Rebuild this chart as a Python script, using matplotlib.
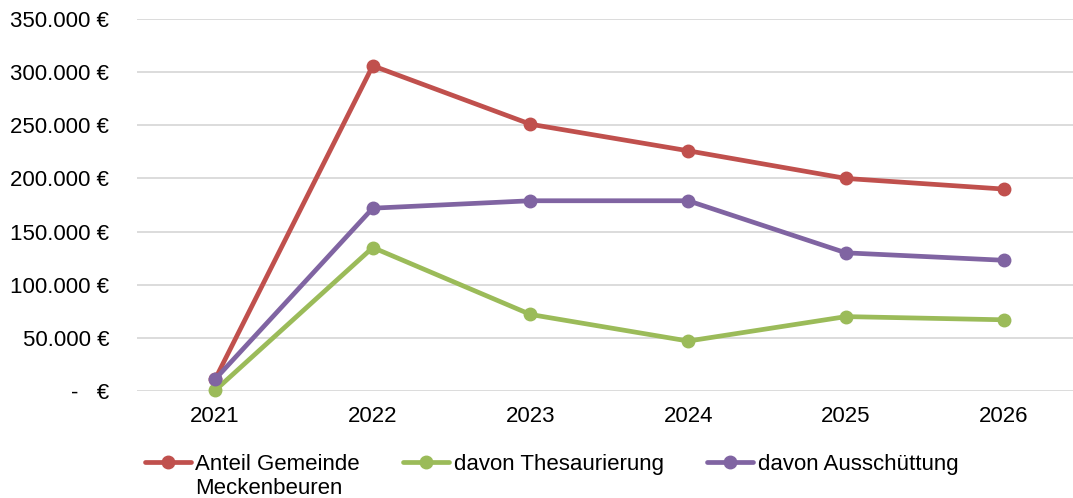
import matplotlib
matplotlib.use('Agg')
import matplotlib.pyplot as plt
from matplotlib.ticker import FuncFormatter

# Werte (Euro)
years = ['2021', '2022', '2023', '2024', '2025', '2026']
anteil = [11000, 306000, 251000, 226000, 200000, 190000]
thesaurierung = [500, 135000, 72000, 47000, 70000, 67000]
ausschuettung = [11000, 172000, 179000, 179000, 130000, 123000]

labels = ['Anteil Gemeinde', 'davon Thesaurierung', 'davon Ausschüttung']
colors = ['#C0504D', '#9BBB59', '#8064A2']

plt.rcParams['font.family'] = ['Liberation Sans', 'DejaVu Sans']
fs = 16


def euro(v, pos):
    if v == 0:
        return '-   €'
    return '{:,.0f} €'.format(v).replace(',', '.')


fig = plt.figure(figsize=(10.73, 4.98), dpi=100)
ax = fig.add_axes([137 / 1073, 107 / 498, 936 / 1073, 372 / 498])

x = list(range(len(years)))
for series, label, color in zip([anteil, thesaurierung, ausschuettung], labels, colors):
    ax.plot(x, series, color=color, linewidth=3.4, marker='o', markersize=9,
            label=label, solid_capstyle='round', clip_on=False)

ax.set_xlim(-0.495, 5.44)
ax.set_ylim(0, 350000)
ax.set_yticks(range(0, 350001, 50000))
ax.yaxis.set_major_formatter(FuncFormatter(euro))
ax.set_xticks(x)
ax.set_xticklabels(years)
ax.tick_params(axis='both', length=0, labelsize=fs)
ax.tick_params(axis='y', pad=20)
ax.tick_params(axis='x', pad=11)
ax.grid(axis='y', color='#D9D9D9', linewidth=1.3)
ax.set_axisbelow(True)
for s in ax.spines.values():
    s.set_visible(False)

leg = fig.legend(loc='center left', bbox_to_anchor=(145 / 1073, 1 - 464 / 498),
                 ncol=3, frameon=False, fontsize=fs, handlelength=2.07,
                 handletextpad=0.2, columnspacing=1.95, borderpad=0, borderaxespad=0)

# zweite Zeile des ersten Legendeneintrags
fig.canvas.draw()
t0 = leg.get_texts()[0]
bb = t0.get_window_extent().transformed(fig.transFigure.inverted())
fig.text(bb.x0, bb.y0 - 24 / 498, 'Meckenbeuren', fontsize=fs, ha='left', va='bottom')

fig.savefig('out.png', dpi=100)
